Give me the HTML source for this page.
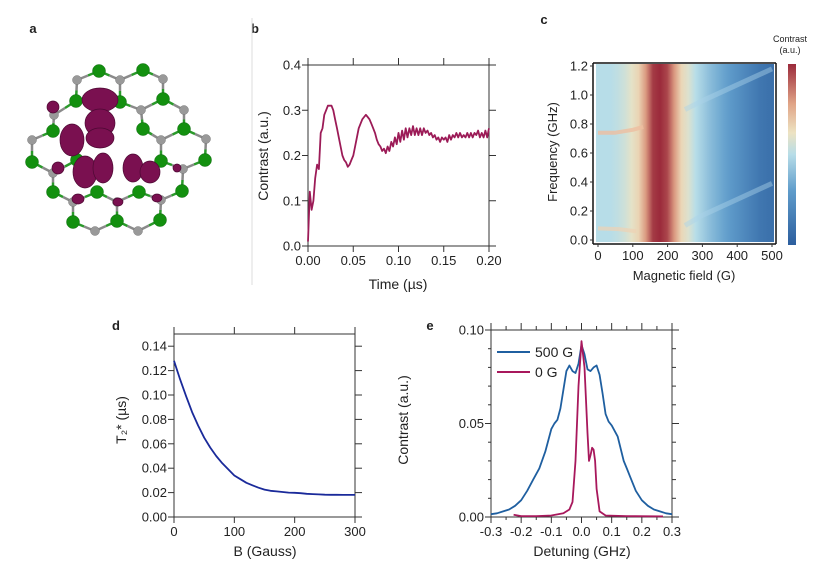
<!DOCTYPE html>
<html><head><meta charset="utf-8"><style>
html,body{margin:0;padding:0;background:#fff;}
svg{display:block;font-family:"Liberation Sans",sans-serif;}
</style></head><body>
<svg id="chart" width="830" height="584" viewBox="0 0 830 584">
<defs>
<linearGradient id="cbar" x1="0" y1="1" x2="0" y2="0">
<stop offset="0" stop-color="#2c5e9e"/><stop offset="0.3" stop-color="#5f9ccb"/><stop offset="0.5" stop-color="#b7dde8"/><stop offset="0.62" stop-color="#ede3c2"/><stop offset="0.78" stop-color="#e0a487"/><stop offset="1" stop-color="#9b2a3b"/>
</linearGradient>
<linearGradient id="heatgrad" x1="0" y1="0" x2="1" y2="0"></linearGradient>
</defs>
</svg>
<script>
// ---- data ----
const bTime=[];for(let i=0;i<=100;i++)bTime.push(+(i*0.002).toFixed(3));
const bContrast=[0.01,0.12,0.08,0.1,0.15,0.18,0.17,0.25,0.26,0.29,0.30,0.31,0.31,0.31,0.30,0.28,0.26,0.24,0.22,0.20,0.19,0.185,0.175,0.18,0.19,0.20,0.22,0.24,0.26,0.27,0.28,0.285,0.29,0.285,0.28,0.27,0.26,0.25,0.235,0.225,0.22,0.21,0.215,0.205,0.22,0.21,0.23,0.22,0.24,0.225,0.25,0.23,0.255,0.235,0.26,0.24,0.26,0.245,0.265,0.245,0.26,0.245,0.26,0.245,0.26,0.25,0.255,0.245,0.25,0.24,0.245,0.235,0.24,0.23,0.24,0.235,0.24,0.23,0.245,0.235,0.245,0.24,0.25,0.24,0.25,0.24,0.245,0.24,0.25,0.24,0.25,0.24,0.25,0.245,0.255,0.24,0.25,0.24,0.255,0.24,0.26];
const bXTicks=[0,0.05,0.1,0.15,0.2];
const bXLabels=["0.00","0.05","0.10","0.15","0.20"];
const bYTicks=[0,0.1,0.2,0.3,0.4];
const bYLabels=["0.0","0.1","0.2","0.3","0.4"];

const cField=[0,20,40,60,80,100,120,140,160,180,200,220,240,260,280,300,320,340,360,380,400,420,440,460,480,500];
const cProfile=[0.5,0.5,0.5,0.52,0.55,0.6,0.66,0.8,0.97,1,0.95,0.8,0.65,0.58,0.5,0.45,0.4,0.36,0.32,0.28,0.24,0.2,0.16,0.12,0.1,0.08];
const cUpperField=[0,50,100,130,250,300,400,500];
const cUpperFreq=[0.74,0.74,0.76,0.78,0.9,0.96,1.07,1.18];
const cLowerField=[0,60,110,250,300,400,500];
const cLowerFreq=[0.08,0.075,0.06,0.1,0.17,0.28,0.39];
const cXTicks=[0,100,200,300,400,500];
const cYTicks=[0,0.2,0.4,0.6,0.8,1.0,1.2];
const cYLabels=["0.0","0.2","0.4","0.6","0.8","1.0","1.2"];

const dB=[0,10,20,30,40,50,60,70,80,90,100,110,120,130,140,150,160,170,180,190,200,210,220,230,240,250,260,270,280,290,300];
const dT2=[0.128,0.113,0.099,0.086,0.075,0.065,0.057,0.050,0.044,0.039,0.034,0.031,0.028,0.026,0.024,0.0225,0.0215,0.021,0.0205,0.020,0.0198,0.0195,0.019,0.0188,0.0185,0.0183,0.0182,0.0182,0.0181,0.0181,0.0181];
const dXTicks=[0,100,200,300];
const dYTicks=[0,0.02,0.04,0.06,0.08,0.10,0.12,0.14];
const dYLabels=["0.00","0.02","0.04","0.06","0.08","0.10","0.12","0.14"];

const eX500=[-0.3,-0.28,-0.26,-0.24,-0.22,-0.2,-0.18,-0.16,-0.14,-0.12,-0.1,-0.09,-0.08,-0.07,-0.06,-0.05,-0.04,-0.03,-0.02,-0.01,0,0.01,0.02,0.03,0.04,0.05,0.06,0.07,0.08,0.09,0.1,0.12,0.14,0.15,0.16,0.18,0.2,0.22,0.24,0.26,0.28,0.3];
const eY500=[0.0015,0.002,0.003,0.004,0.006,0.009,0.014,0.02,0.026,0.035,0.047,0.05,0.052,0.058,0.068,0.078,0.081,0.078,0.077,0.082,0.092,0.087,0.079,0.078,0.080,0.081,0.076,0.066,0.055,0.051,0.049,0.043,0.03,0.026,0.022,0.014,0.009,0.006,0.004,0.003,0.002,0.0015];
const eX0=[-0.225,-0.2,-0.15,-0.1,-0.06,-0.04,-0.03,-0.02,-0.01,0,0.01,0.02,0.025,0.03,0.035,0.04,0.045,0.05,0.06,0.08,0.15,0.27];
const eY0=[0.0012,0.0005,0.0005,0.0008,0.002,0.004,0.008,0.03,0.07,0.094,0.08,0.045,0.03,0.033,0.037,0.036,0.03,0.015,0.003,0.0008,0.0005,0.0003];
const eXTicks=[-0.3,-0.2,-0.1,0,0.1,0.2,0.3];
const eXLabels=["-0.3","-0.2","-0.1","0.0","0.1","0.2","0.3"];
const eYTicks=[0,0.05,0.1];
const eYLabels=["0.00","0.05","0.10"];

// molecule atoms
const greenAtoms=[[99,71],[143,70],[76,101],[163,99],[120,102],[53,131],[143,129],[184,129],[32,162],[77,160],[161,161],[205,160],[53,192],[97,192],[139,192],[182,191],[73,222],[117,221],[160,220]];
const greyAtoms=[[77,80],[120,80],[163,79],[54,115],[141,110],[184,110],[32,140],[161,140],[206,139],[53,173],[183,169],[73,202],[117,202],[161,200],[95,231],[138,231]];
const lobes=[[100,100,18,12],[100,123,15,14],[100,138,14,10],[72,140,12,16],[85,172,12,16],[103,168,10,15],[133,168,10,14],[150,172,10,11],[53,107,6,6],[58,168,6,6],[78,199,6,5],[118,202,5,4],[157,198,5,4],[177,168,4,4]];

// ---- helpers ----
const NS="http://www.w3.org/2000/svg";
const svg=document.getElementById('chart');
function mk(tag,attrs,name,parent){
  const e=document.createElementNS(NS,tag);
  for(const k in attrs)e.setAttribute(k,attrs[k]);
  
  
  (parent||svg).appendChild(e);return e;
}
function txt(x,y,s,name,opt){
  opt=opt||{};
  const t=mk('text',{x:x,y:y,'font-size':opt.size||13,'text-anchor':opt.anchor||'middle',fill:'#222','font-weight':opt.bold?'bold':'normal'},name);
  if(opt.rot)t.setAttribute('transform','rotate(-90 '+x+' '+y+')');
  t.textContent=s;return t;
}
function line(x1,y1,x2,y2,name,col,w){return mk('line',{x1:x1,y1:y1,x2:x2,y2:y2,stroke:col||'#333','stroke-width':w||1},name);}
function poly(xs,ys,X,Y,col,w,name){
  const pts=X.map((v,i)=>xs(v).toFixed(1)+','+ys(Y[i]).toFixed(1)).join(' ');
  return mk('polyline',{points:pts,fill:'none',stroke:col,'stroke-width':w,'stroke-linejoin':'round'},name);
}
function frame(p,xs,ys,xt,xl,yt,yl,x0,x1,y0,y1,minorY,minorX){
  line(x0,y0,x0,y1,p+'-y-axis');line(x0,y0,x1,y0,p+'-x-axis');
  line(x0,y1,x1,y1,p+'-top-frame');line(x1,y0,x1,y1,p+'-right-frame');
  xt.forEach((v,i)=>{const x=xs(v);line(x,y0,x,y0+6,p+'-x-tick');line(x,y1,x,y1-7,p+'-top-tick');txt(x,y0+19,xl[i],p+'-x-tick-label');});
  yt.forEach((v,i)=>{const y=ys(v);line(x0-6,y,x0,y,p+'-y-tick');line(x1,y,x1+7,y,p+'-right-tick');txt(x0-7,y+4.5,yl[i],p+'-y-tick-label',{anchor:'end'});});
  if(minorY)minorY.forEach(v=>{const y=ys(v);line(x0-3,y,x0,y,p+'-y-minor-tick');line(x1,y,x1+4,y,p+'-right-minor-tick');});
  if(minorX)minorX.forEach(v=>{const x=xs(v);line(x,y0,x,y0+3,p+'-x-minor-tick');line(x,y1,x,y1-4,p+'-top-minor-tick');});
}

// ---- panel letters ----
txt(33,33,'a','panel-label-a',{bold:true,size:13});
txt(255,33,'b','panel-label-b',{bold:true,size:13});
txt(544,24,'c','panel-label-c',{bold:true,size:13});
txt(116,330,'d','panel-label-d',{bold:true,size:13});
txt(430,330,'e','panel-label-e',{bold:true,size:13});
line(252,18,252,285,'panel-divider','#ddd',1);

// ---- panel a molecule ----
const atoms=greenAtoms.concat(greyAtoms);
for(let i=0;i<atoms.length;i++)for(let j=i+1;j<atoms.length;j++){
  const dx=atoms[i][0]-atoms[j][0],dy=atoms[i][1]-atoms[j][1];
  if(Math.hypot(dx,dy)<29){const mx=(atoms[i][0]+atoms[j][0])/2,my=(atoms[i][1]+atoms[j][1])/2;
    line(atoms[i][0],atoms[i][1],mx,my,'bond',i<greenAtoms.length?'#2a9a2a':'#8a8a8a',2.5);
    line(mx,my,atoms[j][0],atoms[j][1],'bond',j<greenAtoms.length?'#2a9a2a':'#8a8a8a',2.5);}
}
greyAtoms.forEach(a=>mk('circle',{cx:a[0],cy:a[1],r:4.5,fill:'#999',stroke:'#777','stroke-width':0.5},'grey-atom'));
greenAtoms.forEach(a=>mk('circle',{cx:a[0],cy:a[1],r:6.5,fill:'#13900f',stroke:'#0b6a0b','stroke-width':0.5},'green-atom'));
lobes.forEach(l=>mk('ellipse',{cx:l[0],cy:l[1],rx:l[2],ry:l[3],fill:'#7a1050',stroke:'#4d0833','stroke-width':0.7},'orbital-lobe'));

// ---- panel b ----
{const xs=v=>308+v/0.2*181,ys=v=>246-v/0.4*181;
frame('b',xs,ys,bXTicks,bXLabels,bYTicks,bYLabels,308,489,246,65);
poly(xs,ys,bTime,bContrast,'#9c1b57',1.8,'b-contrast-line');
txt(268,156,'Contrast (a.u.)','b-y-axis-title',{rot:true,size:14});
txt(398,289,'Time (µs)','b-x-axis-title',{size:14});}

// ---- panel c heatmap ----
{const xs=v=>598+v/500*174,ys=v=>240-v/1.2*174;
const cmap=[[0,[44,94,158]],[0.3,[95,156,203]],[0.5,[183,221,232]],[0.62,[237,227,194]],[0.78,[224,164,135]],[1,[155,42,59]]];
function col(v){for(let i=1;i<cmap.length;i++){if(v<=cmap[i][0]){const a=cmap[i-1],b=cmap[i],t=(v-a[0])/(b[0]-a[0]);return 'rgb('+a[1].map((c,k)=>Math.round(c+(b[1][k]-c)*t)).join(',')+')';}}return 'rgb(155,42,59)';}
const g=document.getElementById('heatgrad');
cField.forEach((f,i)=>{const s=mk('stop',{offset:f/500,'stop-color':col(cProfile[i])},'heatmap-stop',g);});
mk('rect',{x:xs(0)-2,y:ys(1.2)-2,width:xs(500)-xs(0)+4,height:ys(0)-ys(1.2)+4,fill:'url(#heatgrad)'},'heatmap');
poly(xs,ys,cUpperField.slice(0,4),cUpperFreq.slice(0,4),'rgba(238,190,160,0.8)',4,'upper-branch-left');
poly(xs,ys,cUpperField.slice(4),cUpperFreq.slice(4),'rgba(170,210,232,0.45)',5,'upper-branch-right');
poly(xs,ys,cLowerField.slice(0,3),cLowerFreq.slice(0,3),'rgba(238,210,180,0.7)',4,'lower-branch-left');
poly(xs,ys,cLowerField.slice(3),cLowerFreq.slice(3),'rgba(170,210,232,0.45)',5,'lower-branch-right');
line(593,63,593,244,'c-y-axis','#111',1.5);line(593,244,776,244,'c-x-axis','#111',1.5);
line(593,63,776,63,'c-top-frame','#111',1.5);line(776,63,776,244,'c-right-frame','#111',1.5);
cXTicks.forEach(v=>{line(xs(v),244,xs(v),247,'c-x-tick');txt(xs(v),260,String(v),'c-x-tick-label');});
cYTicks.forEach((v,i)=>{line(590,ys(v),593,ys(v),'c-y-tick');txt(588,ys(v)+4.5,cYLabels[i],'c-y-tick-label',{anchor:'end'});});
txt(684,280,'Magnetic field (G)','c-x-axis-title');
txt(557,152,'Frequency (GHz)','c-y-axis-title',{rot:true});
mk('rect',{x:788,y:64,width:8,height:181,fill:'url(#cbar)'},'colorbar');
txt(790,42,'Contrast','colorbar-title',{size:9});
txt(790,53,'(a.u.)','colorbar-unit',{size:9});}

// ---- panel d ----
{const xs=v=>174+v/300*181,ys=v=>517-v/0.15*183;
frame('d',xs,ys,dXTicks,dXTicks.map(String),dYTicks,dYLabels,174,355,517,334);
poly(xs,ys,dB,dT2,'#1a2a9a',1.8,'d-t2-line');
txt(126,420,'T₂* (µs)','d-y-axis-title',{rot:true,size:14});
txt(265,556,'B (Gauss)','d-x-axis-title',{size:14});}

// ---- panel e ----
{const xs=v=>491+(v+0.3)/0.6*181,ys=v=>517-v/0.1*187;
const minorY=[0.01,0.02,0.03,0.04,0.06,0.07,0.08,0.09];
frame('e',xs,ys,eXTicks,eXLabels,eYTicks,eYLabels,491,672,517,330,minorY,[-0.25,-0.15,-0.05,0.05,0.15,0.25]);
poly(xs,ys,eX500,eY500,'#1f5fa0',1.8,'e-500G-line');
poly(xs,ys,eX0,eY0,'#a8185c',1.8,'e-0G-line');
line(497,352,530,352,'legend-500G-swatch','#1f5fa0',2);
txt(535,357,'500 G','legend-500G-label',{anchor:'start',size:14});
line(497,372,530,372,'legend-0G-swatch','#a8185c',2);
txt(535,377,'0 G','legend-0G-label',{anchor:'start',size:14});
txt(408,420,'Contrast (a.u.)','e-y-axis-title',{rot:true,size:14});
txt(582,556,'Detuning (GHz)','e-x-axis-title',{size:14});}
</script>
</body></html>
